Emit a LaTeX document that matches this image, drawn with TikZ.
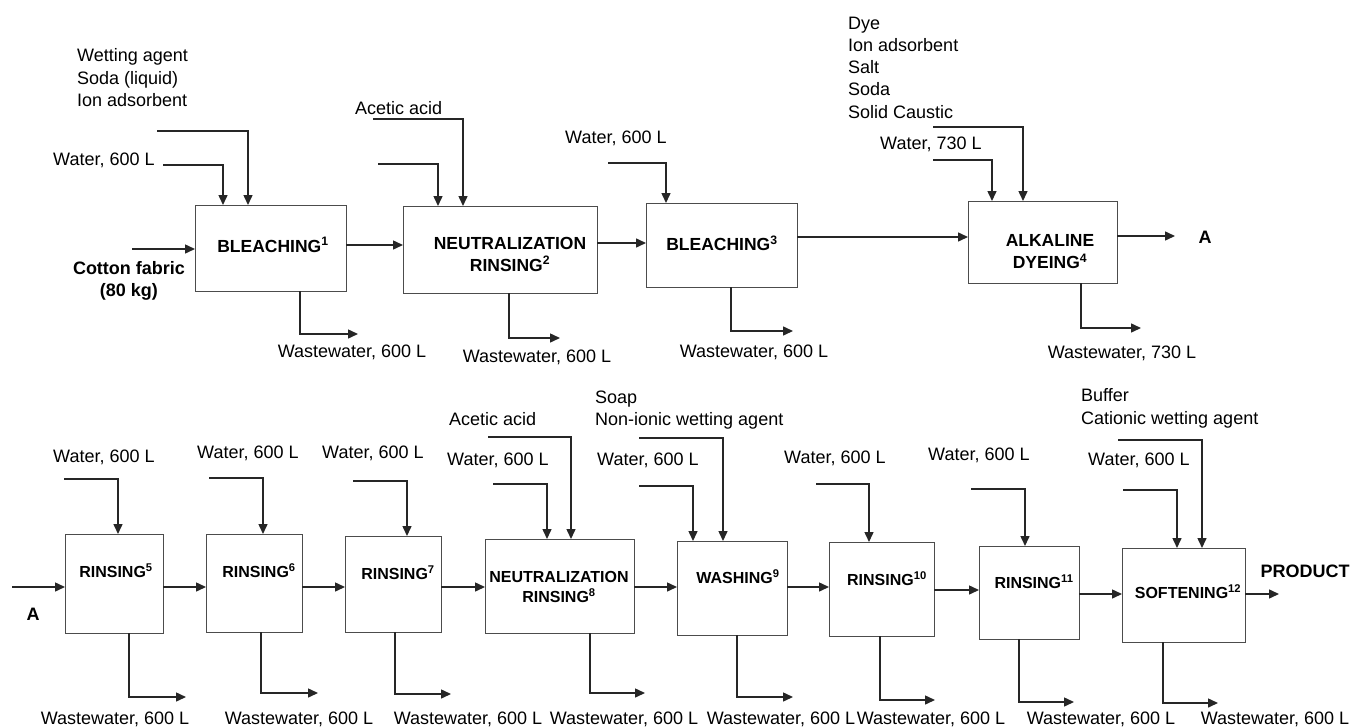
\documentclass[tikz,border=0pt]{standalone}
\usepackage{fontspec}
\setmainfont{Liberation Sans}
\usetikzlibrary{arrows.meta,calc,positioning}

\tikzset{
	stage/.style={draw=black!70, line width=1pt, inner sep=0pt, outer sep=0pt},
	stagetxt/.style={font=\fontsize{17.5}{22}\selectfont\bfseries, align=center, inner sep=0pt},
	lowtxt/.style={stagetxt, font=\fontsize{16}{20}\selectfont\bfseries},
	lbl/.style={font=\fontsize{18}{22.3}\selectfont, align=left, inner sep=0pt},
	lblb/.style={lbl, font=\fontsize{18}{22}\selectfont\bfseries, align=center},
	flow/.style={-{Triangle[length=10pt,width=9pt]}, line width=1.5pt, black!85},
}

\begin{document}
\begin{tikzpicture}[x=1pt, y=-1pt]
	\useasboundingbox (0,0) rectangle (1350,728);
	% upper line
	\node [stage, minimum width=151pt, minimum height=86pt] (bleach1) at (270.5,248) {};
	\node [stage, minimum width=194pt, minimum height=87pt] (neutr2) at (500,249.5) {};
	\node [stage, minimum width=151pt, minimum height=84pt] (bleach3) at (721.5,245) {};
	\node [stage, minimum width=149pt, minimum height=82pt] (dye4) at (1042.5,242) {};
	\node [stagetxt] (t1) at (273,245) {BLEACHING\textsuperscript{1}};
	\node [stagetxt] (t2) at (510,254) {NEUTRALIZATION\\RINSING\textsuperscript{2}};
	\node [stagetxt] (t3) at (722,243) {BLEACHING\textsuperscript{3}};
	\node [stagetxt] (t4) at (1050,252) {ALKALINE\\DYEING\textsuperscript{4}};
	% lower line
	\node [stage, minimum width=98pt, minimum height=99pt] (rins5) at (114,583.5) {};
	\node [stage, minimum width=96pt, minimum height=98pt] (rins6) at (254,583) {};
	\node [stage, minimum width=96pt, minimum height=96pt] (rins7) at (393,584) {};
	\node [stage, minimum width=149pt, minimum height=94pt] (neutr8) at (559.5,586) {};
	\node [stage, minimum width=110pt, minimum height=94pt] (wash9) at (732,588) {};
	\node [stage, minimum width=105pt, minimum height=94pt] (rins10) at (881.5,589) {};
	\node [stage, minimum width=100pt, minimum height=93pt] (rins11) at (1029,592.5) {};
	\node [stage, minimum width=123pt, minimum height=94pt] (soft12) at (1183.5,595) {};
	\node [lowtxt] (t5) at (116,571) {RINSING\textsuperscript{5}};
	\node [lowtxt] (t6) at (259,571) {RINSING\textsuperscript{6}};
	\node [lowtxt] (t7) at (398,573) {RINSING\textsuperscript{7}};
	\node [lowtxt] (t8) at (559,587) {NEUTRALIZATION\\RINSING\textsuperscript{8}};
	\node [lowtxt] (t9) at (738,577) {WASHING\textsuperscript{9}};
	\node [lowtxt] (t10) at (887,579) {RINSING\textsuperscript{10}};
	\node [lowtxt] (t11) at (1034,582) {RINSING\textsuperscript{11}};
	\node [lowtxt] (t12) at (1188,592) {SOFTENING\textsuperscript{12}};

	% labels
	\node [lblb] (fabric) at (129,281) {Cotton fabric\\(80 kg)};
	\node [lblb] (atop) at (1205,237) {A};
	\node [lblb] (abot) at (33,614) {A};
	\node [lblb] (product) at (1305,571) {PRODUCT};
	\node [lbl, anchor=west] (lwat1) at (53,160) {Water, 600 L};
	\node [lbl, anchor=north west] (lchem1) at (77,48.5) {Wetting agent\\Soda (liquid)\\Ion adsorbent};
	\node [lbl, anchor=west] (lchem2) at (355,108) {Acetic acid};
	\node [lbl, anchor=west] (lwat3) at (565,138) {Water, 600 L};
	\node [lbl, anchor=north west] (lchem4) at (848,16.5) {Dye\\Ion adsorbent\\Salt\\Soda\\Solid Caustic};
	\node [lbl, anchor=west] (lwat4) at (880,144) {Water, 730 L};
	\node [lbl] (lww1) at (352,352) {Wastewater, 600 L};
	\node [lbl] (lww2) at (537,357) {Wastewater, 600 L};
	\node [lbl] (lww3) at (754,352) {Wastewater, 600 L};
	\node [lbl] (lww4) at (1122,353) {Wastewater, 730 L};
	\node [lbl, anchor=west] (lwat5) at (53,457) {Water, 600 L};
	\node [lbl, anchor=west] (lwat6) at (197,453) {Water, 600 L};
	\node [lbl, anchor=west] (lwat7) at (322,453) {Water, 600 L};
	\node [lbl, anchor=west] (lchem8) at (449,419) {Acetic acid};
	\node [lbl, anchor=west] (lwat8) at (447,460) {Water, 600 L};
	\node [lbl, anchor=north west] (lchem9) at (595,390.5) {Soap\\Non-ionic wetting agent};
	\node [lbl, anchor=west] (lwat9) at (597,460) {Water, 600 L};
	\node [lbl, anchor=west] (lwat10) at (784,458) {Water, 600 L};
	\node [lbl, anchor=west] (lwat11) at (928,455) {Water, 600 L};
	\node [lbl, anchor=north west] (lchem12) at (1081,388.5) {Buffer\\Cationic wetting agent};
	\node [lbl, anchor=west] (lwat12) at (1088,460) {Water, 600 L};
	\foreach \x/\n in {115/5, 299/6, 468/7, 624/8, 781/9, 931/10, 1101/11, 1275/12}
		\node [lbl] (lww\n) at (\x,719) {Wastewater, 600 L};

	% free ends
	\coordinate (fin) at (132,249);
	\coordinate (aout) at (1175,236);
	\coordinate (ain) at (12,587);
	\coordinate (pout) at (1279,594);
	\coordinate (wat1) at (163,165);
	\coordinate (chem1) at (157,131);
	\coordinate (wat2) at (378,164);
	\coordinate (chem2) at (373,119);
	\coordinate (wat3) at (608,163);
	\coordinate (wat4) at (933,160);
	\coordinate (chem4) at (933,127);
	\coordinate (ww1) at (358,334);
	\coordinate (ww2) at (560,338);
	\coordinate (ww3) at (793,331);
	\coordinate (ww4) at (1141,328);
	\coordinate (wat5) at (64,479);
	\coordinate (wat6) at (209,478);
	\coordinate (wat7) at (353,481);
	\coordinate (chem8) at (488,437);
	\coordinate (wat8) at (493,484);
	\coordinate (chem9) at (639,438);
	\coordinate (wat9) at (639,486);
	\coordinate (wat10) at (816,484);
	\coordinate (wat11) at (971,489);
	\coordinate (chem12) at (1118,440);
	\coordinate (wat12) at (1123,490);
	\coordinate (ww5) at (186,697);
	\coordinate (ww6) at (318,693);
	\coordinate (ww7) at (451,694);
	\coordinate (ww8) at (645,693);
	\coordinate (ww9) at (793,697);
	\coordinate (ww10) at (935,700);
	\coordinate (ww11) at (1074,702);
	\coordinate (ww12) at (1218,703);

	% main flow
	\draw[flow] (fin) -- (bleach1.west |- fin);
	\draw[flow] (bleach1.east |- 0,245) -- (neutr2.west |- 0,245);
	\draw[flow] (neutr2.east |- 0,243) -- (bleach3.west |- 0,243);
	\draw[flow] (bleach3.east |- 0,237) -- (dye4.west |- 0,237);
	\draw[flow] (dye4.east |- aout) -- (aout);
	\draw[flow] (ain) -- (rins5.west |- ain);
	\draw[flow] (rins5.east |- 0,587) -- (rins6.west |- 0,587);
	\draw[flow] (rins6.east |- 0,587) -- (rins7.west |- 0,587);
	\draw[flow] (rins7.east |- 0,587) -- (neutr8.west |- 0,587);
	\draw[flow] (neutr8.east |- 0,587) -- (wash9.west |- 0,587);
	\draw[flow] (wash9.east |- 0,587) -- (rins10.west |- 0,587);
	\draw[flow] (rins10.east |- 0,590) -- (rins11.west |- 0,590);
	\draw[flow] (rins11.east |- 0,594) -- (soft12.west |- 0,594);
	\draw[flow] (soft12.east |- pout) -- (pout);

	% feeds
	\draw[flow] (wat1) -| ($(bleach1.north west)+(28,0)$);
	\draw[flow] (chem1) -| ($(bleach1.north west)+(53,0)$);
	\draw[flow] (wat2) -| ($(neutr2.north west)+(35,0)$);
	\draw[flow] (chem2) -| ($(neutr2.north west)+(60,0)$);
	\draw[flow] (wat3) -| ($(bleach3.north west)+(20,0)$);
	\draw[flow] (wat4) -| ($(dye4.north west)+(24,0)$);
	\draw[flow] (chem4) -| ($(dye4.north west)+(55,0)$);
	\draw[flow] (wat5) -| ($(rins5.north west)+(53,0)$);
	\draw[flow] (wat6) -| ($(rins6.north west)+(57,0)$);
	\draw[flow] (wat7) -| ($(rins7.north west)+(62,0)$);
	\draw[flow] (wat8) -| ($(neutr8.north west)+(62,0)$);
	\draw[flow] (chem8) -| ($(neutr8.north west)+(86,0)$);
	\draw[flow] (wat9) -| ($(wash9.north west)+(16,0)$);
	\draw[flow] (chem9) -| ($(wash9.north west)+(46,0)$);
	\draw[flow] (wat10) -| ($(rins10.north west)+(40,0)$);
	\draw[flow] (wat11) -| ($(rins11.north west)+(46,0)$);
	\draw[flow] (wat12) -| ($(soft12.north west)+(55,0)$);
	\draw[flow] (chem12) -| ($(soft12.north west)+(80,0)$);

	% wastewater
	\draw[flow] ($(bleach1.south west)+(105,0)$) |- (ww1);
	\draw[flow] ($(neutr2.south west)+(106,0)$) |- (ww2);
	\draw[flow] ($(bleach3.south west)+(85,0)$) |- (ww3);
	\draw[flow] ($(dye4.south west)+(113,0)$) |- (ww4);
	\draw[flow] ($(rins5.south west)+(64,0)$) |- (ww5);
	\draw[flow] ($(rins6.south west)+(55,0)$) |- (ww6);
	\draw[flow] ($(rins7.south west)+(50,0)$) |- (ww7);
	\draw[flow] ($(neutr8.south west)+(105,0)$) |- (ww8);
	\draw[flow] ($(wash9.south west)+(60,0)$) |- (ww9);
	\draw[flow] ($(rins10.south west)+(51,0)$) |- (ww10);
	\draw[flow] ($(rins11.south west)+(40,0)$) |- (ww11);
	\draw[flow] ($(soft12.south west)+(41,0)$) |- (ww12);
\end{tikzpicture}
\end{document}
